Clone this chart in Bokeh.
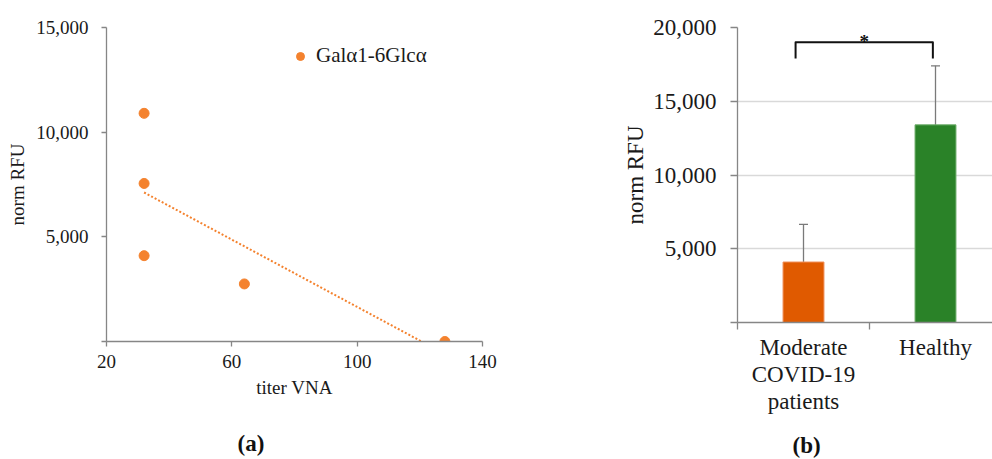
from bokeh.plotting import figure
from bokeh.models import (FixedTicker, Legend, LegendItem, ColumnDataSource, Label,
                          Whisker, TeeHead, NumeralTickFormatter, Title)
from bokeh.layouts import row
from bokeh.embed import file_html
from bokeh.resources import INLINE
import numpy as np

# ---------------- data: panel (a) ----------------
titer_vna = [32, 32, 32, 64, 128]
norm_rfu = [10900, 7550, 4100, 2750, 0]
series_name = "Galα1-6Glcα"
xticks_a = [20, 60, 100, 140]
yticks_a = [0, 5000, 10000, 15000]

# ---------------- data: panel (b) ----------------
groups = ["Moderate\nCOVID-19\npatients", "Healthy"]
group_means = [4100, 13400]
group_errs = [2550, 4000]
yticks_b = [0, 5000, 10000, 15000, 20000]
sig_text = "*"
sig_bracket_top = 19000
sig_bracket_leg = 17900

FONT = "Liberation Serif"
AXIS_GRAY = "#868686"
ORANGE_PT = "#F4822E"


def style_axis(ax, size):
    ax.axis_line_color = AXIS_GRAY
    ax.axis_line_width = 1.3
    ax.major_tick_line_color = AXIS_GRAY
    ax.major_tick_line_width = 1.3
    ax.major_tick_in = 0
    ax.minor_tick_line_color = None
    ax.major_label_text_font = FONT
    ax.major_label_text_font_size = size
    ax.major_label_text_color = "#1a1a1a"
    ax.axis_label_text_font = FONT
    ax.axis_label_text_font_size = size
    ax.axis_label_text_font_style = "normal"
    ax.axis_label_text_color = "#1a1a1a"


def panel_tag(p, text, offset, standoff):
    p.add_layout(Title(text=text, align="left", offset=offset, standoff=standoff,
                       text_font=FONT, text_font_size="23px", text_font_style="bold",
                       text_color="#111111"), "below")


# ================= panel (a) =================
pa = figure(frame_width=376, frame_height=314, min_border_left=106, min_border_top=27,
            min_border_right=30, min_border_bottom=118,
            x_range=(xticks_a[0], xticks_a[-1]), y_range=(yticks_a[0], yticks_a[-1]),
            output_backend="svg", toolbar_location=None, tools="")
pa.outline_line_color = None
pa.grid.visible = False

r = pa.scatter(titer_vna, norm_rfu, size=10, color=ORANGE_PT)

slope, intercept = np.polyfit(titer_vna, norm_rfu, 1)
x0 = min(titer_vna)
x1 = -intercept / slope
pa.line([x0, x1], [slope * x0 + intercept, 0], line_color=ORANGE_PT, line_width=2,
        line_dash="2 2")

pa.xaxis.ticker = FixedTicker(ticks=xticks_a, minor_ticks=[])
pa.yaxis.ticker = FixedTicker(ticks=yticks_a, minor_ticks=[])
pa.yaxis.formatter = NumeralTickFormatter(format="0,0")
pa.yaxis.major_label_overrides = {0: ""}
pa.xaxis.axis_label = "titer VNA"
pa.yaxis.axis_label = "norm RFU"
for ax in (pa.xaxis[0], pa.yaxis[0]):
    style_axis(ax, "19px")
    ax.major_tick_out = 5
pa.yaxis.major_label_standoff = 13
pa.xaxis.major_label_standoff = 8
pa.yaxis.axis_label_standoff = 5
pa.xaxis.axis_label_standoff = 6

legend = Legend(items=[LegendItem(label=series_name, renderers=[r])],
                location=(184, 273), padding=0, margin=0, spacing=0,
                border_line_color=None, background_fill_alpha=0,
                label_text_font=FONT, label_text_font_size="21px",
                label_text_color="#1a1a1a", label_standoff=6,
                glyph_width=20, glyph_height=20)
pa.add_layout(legend)

panel_tag(pa, "(a)", 131, 56)

# ================= panel (b) =================
xs = [i + 0.5 for i in range(len(groups))]
pb = figure(frame_width=255, frame_height=295, min_border_left=225, min_border_top=24,
            min_border_right=0, min_border_bottom=140,
            x_range=(0, 255 / 132), y_range=(yticks_b[0], yticks_b[-1]),
            output_backend="svg", toolbar_location=None, tools="")
pb.outline_line_color = None
pb.xgrid.visible = False
pb.ygrid.ticker = FixedTicker(ticks=yticks_b[1:], minor_ticks=[])
pb.ygrid.grid_line_color = "#D9D9D9"
pb.ygrid.grid_line_width = 1.3

src = ColumnDataSource(dict(
    x=xs, top=group_means,
    upper=[m + e for m, e in zip(group_means, group_errs)],
    lower=[m - e for m, e in zip(group_means, group_errs)],
    fill=["#E05A00", "#2A8228"], edge=["#F0905A", "#6FAE6C"],
))
pb.vbar(x="x", top="top", width=0.31, source=src, fill_color="fill", line_color="edge",
        line_width=1)
pb.add_layout(Whisker(base="x", upper="upper", lower="lower", source=src,
                      line_color="#7A7A7A", line_width=1.3,
                      upper_head=TeeHead(size=9, line_color="#7A7A7A", line_width=1.3),
                      lower_head=TeeHead(size=9, line_color="#7A7A7A", line_width=1.3)))

bx0 = xs[0] - 0.06
bx1 = xs[1] - 0.02
pb.line([bx0, bx0, bx1, bx1], [sig_bracket_leg, sig_bracket_top, sig_bracket_top, sig_bracket_leg],
        line_color="#111111", line_width=2, line_join="round")
pb.add_layout(Label(x=(bx0 + bx1) / 2, y=sig_bracket_top, y_offset=1, text=sig_text,
                    text_font=FONT, text_font_size="19px", text_font_style="bold",
                    text_align="center", text_baseline="alphabetic", text_color="#111111"))

tick_bounds = list(range(len(groups) + 1))
pb.xaxis.ticker = FixedTicker(ticks=xs, minor_ticks=tick_bounds)
pb.xaxis.major_label_overrides = {x: g for x, g in zip(xs, groups)}
pb.yaxis.ticker = FixedTicker(ticks=yticks_b, minor_ticks=[])
pb.yaxis.formatter = NumeralTickFormatter(format="0,0")
pb.yaxis.major_label_overrides = {0: ""}
pb.yaxis.axis_label = "norm RFU"
for ax in (pb.xaxis[0], pb.yaxis[0]):
    style_axis(ax, "23px")
pb.yaxis.major_tick_out = 7
pb.yaxis.major_label_standoff = 14
pb.yaxis.axis_label_standoff = 2
pb.xaxis.major_tick_line_color = None
pb.xaxis.major_tick_out = 0
pb.xaxis.minor_tick_line_color = AXIS_GRAY
pb.xaxis.minor_tick_line_width = 1.3
pb.xaxis.minor_tick_out = 7
pb.xaxis.minor_tick_in = 0
pb.xaxis.major_label_standoff = 5
pb.xaxis.major_label_text_line_height = 1.08

panel_tag(pb, "(b)", 55, 28)

layout = row(pa, pb)
open("out.html", "w").write(file_html(layout, INLINE))
